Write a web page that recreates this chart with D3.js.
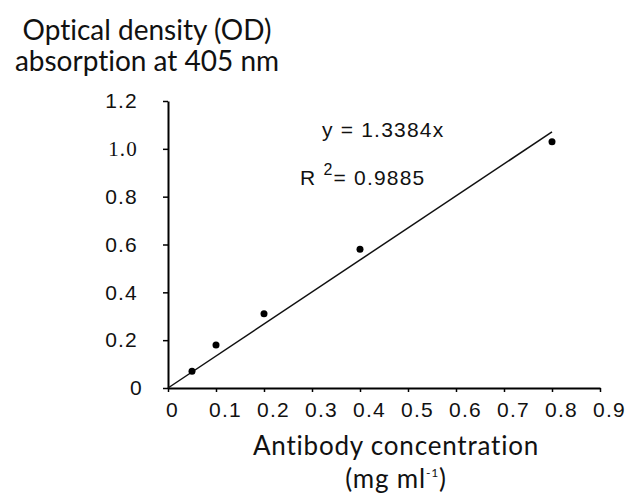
<!DOCTYPE html>
<html>
<head>
<meta charset="utf-8">
<script src="https://cdn.jsdelivr.net/npm/d3@7"></script>
<style>
  body { margin: 0; background: #fff; }
  svg { display: block; }
  text { font-variant-ligatures: none; }
</style>
</head>
<body>
<div id="chart"></div>
<script>
// data
const concentration = [0.05, 0.1, 0.2, 0.4, 0.8];
const opticalDensity = [0.07, 0.18, 0.31, 0.58, 1.03];
const slope = 1.3384;
const rSquared = 0.9885;
const fitRange = [0, 0.8];
const xTicks = [0, 0.1, 0.2, 0.3, 0.4, 0.5, 0.6, 0.7, 0.8, 0.9];
const yTicks = [0, 0.2, 0.4, 0.6, 0.8, 1.0, 1.2];

const W = 630, H = 497;
const svg = d3.select('#chart').append('svg').attr('width', W).attr('height', H);

const x = d3.scaleLinear().domain([0, 0.9]).range([168, 600]);
const y = d3.scaleLinear().domain([0, 1.2]).range([388, 101]);

const tickFont = '"Liberation Sans", Arial, sans-serif';
const titleFont = 'Lato, "Open Sans", sans-serif';

// --- eixo Y ---
const yAxis = svg.append('g')
  .attr('transform', `translate(${x(0)},0)`)
  .call(d3.axisLeft(y).tickValues(yTicks).tickSize(5).tickSizeOuter(0).tickPadding(25)
    .tickFormat(d => d === 0 ? '0' : d3.format('.1f')(d)));
yAxis.select('.domain').attr('stroke', '#000').attr('stroke-width', 2);
yAxis.selectAll('.tick line').attr('stroke', '#000').attr('stroke-width', 1.5);
yAxis.selectAll('text')
  .style('font-family', d => d === 1.0 ? '"Liberation Serif", "Times New Roman", serif' : tickFont)
  .style('font-size', '21px')
  .style('letter-spacing', '1.2px')
  .attr('fill', '#111')
  .attr('dx', d => d === 0 ? 5 : 0);

// --- eixo X ---
const xAxis = svg.append('g')
  .attr('transform', `translate(0,${y(0)})`)
  .call(d3.axisBottom(x).tickValues(xTicks).tickSize(4).tickSizeOuter(0).tickPadding(10)
    .tickFormat(d => d === 0 ? '0' : d3.format('.1f')(d)));
xAxis.select('.domain').attr('stroke', '#000').attr('stroke-width', 2);
xAxis.selectAll('.tick line').attr('stroke', '#000').attr('stroke-width', 1.5);
xAxis.selectAll('text')
  .style('font-family', tickFont)
  .style('font-size', '21px')
  .style('letter-spacing', '1.2px')
  .attr('fill', '#111')
  .attr('dx', d => d === 0 ? 4 : 9);

// --- linha de tendência ---
const line = d3.line().x(d => x(d)).y(d => y(slope * d));
svg.append('path')
  .datum(fitRange)
  .attr('d', line)
  .attr('fill', 'none')
  .attr('stroke', '#111')
  .attr('stroke-width', 1.5);

// --- pontos ---
svg.selectAll('circle.pt')
  .data(concentration)
  .enter().append('circle')
  .attr('class', 'pt')
  .attr('cx', d => x(d))
  .attr('cy', (d, i) => y(opticalDensity[i]))
  .attr('r', 3.5)
  .attr('fill', '#000');

// --- equação ---
const eqStyle = sel => sel.style('font-family', tickFont).style('font-size', '21px')
  .style('letter-spacing', '1.2px').attr('fill', '#111');
svg.append('text')
  .attr('x', 322).attr('y', 137)
  .call(eqStyle)
  .text(`y = ${slope}x`);
const r2 = svg.append('text')
  .attr('x', 300).attr('y', 185)
  .call(eqStyle);
r2.append('tspan').text('R ');
r2.append('tspan').attr('dy', -10).style('font-size', '16px').text('2');
r2.append('tspan').attr('dy', 10).text(`= ${rSquared}`);

// --- títulos ---
const titleStyle = sel => sel.style('font-family', titleFont).style('font-size', '28px').attr('fill', '#111');
const yTitle = ['Optical density (OD)', 'absorption at 405 nm'];
svg.selectAll('text.ytitle')
  .data(yTitle)
  .enter().append('text')
  .attr('class', 'ytitle')
  .attr('x', 147)
  .attr('y', (d, i) => 40 + i * 31)
  .attr('text-anchor', 'middle')
  .call(titleStyle)
  .text(d => d);

const xTitleStyle = sel => sel.style('font-family', titleFont).style('font-size', '26px')
  .style('letter-spacing', '0.8px').attr('fill', '#111');
svg.append('text')
  .attr('x', 396).attr('y', 455)
  .attr('text-anchor', 'middle')
  .call(xTitleStyle)
  .text('Antibody concentration');
const unit = svg.append('text')
  .attr('x', 396).attr('y', 488)
  .attr('text-anchor', 'middle')
  .call(xTitleStyle);
unit.append('tspan').text('(mg ml');
unit.append('tspan').attr('dy', -11).style('font-size', '12px').text('-1');
unit.append('tspan').attr('dy', 11).text(')');
</script>
</body>
</html>
